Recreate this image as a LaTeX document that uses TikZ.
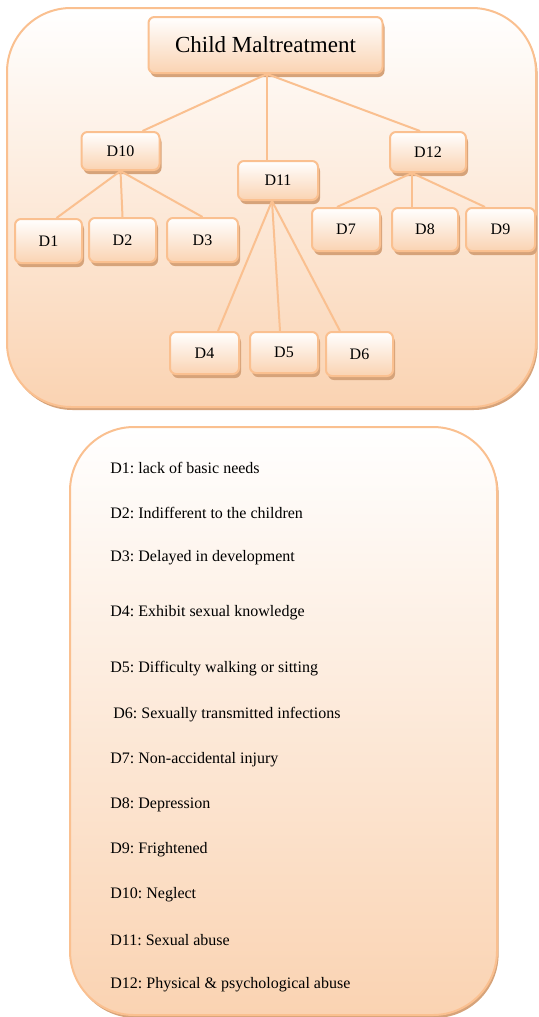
\documentclass[tikz,border=0pt]{standalone}
\usepackage{fontspec}
\setmainfont{Liberation Serif}
\usetikzlibrary{shadows}
\frenchspacing
\definecolor{peachline}{RGB}{250,192,144}
\definecolor{peachfill}{RGB}{250,211,178}
\definecolor{peachshadow}{RGB}{214,163,122}
\tikzset{
  dbox/.style={draw=peachline, line width=1pt, rounded corners=3pt, inner sep=0pt,
    top color=white, bottom color=peachfill,
    drop shadow={shadow xshift=1pt, shadow yshift=-2pt, fill=peachshadow, opacity=1},
    font=\fontsize{8}{9}\selectfont},
  link/.style={draw=peachline, line width=1pt},
  panel/.style={draw=peachline, line width=1pt, rounded corners=32pt,
    top color=white, bottom color=peachfill,
    drop shadow={shadow xshift=0.8pt, shadow yshift=-1.5pt, fill=peachshadow, opacity=1}},
  legend/.style={anchor=west, inner sep=0pt, font=\fontsize{8}{9}\selectfont}
}

\begin{document}
\begin{tikzpicture}[x=0.5pt,y=0.5pt]
  \clip (0,0) rectangle (539,-1017);
  % panels
  \draw[panel] (7,-8) rectangle (536,-407);
  \draw[panel] (70,-427) rectangle (497,-1015);

  % tree
  \node[dbox, minimum width=117pt, minimum height=28pt, font=\fontsize{11.5}{13}\selectfont] (CM) at(265.5,-45){Child Maltreatment};
  \node[dbox, minimum width=39pt, minimum height=19pt] (D10) at(120.5,-151){D10};
  \node[dbox, minimum width=40pt, minimum height=19.5pt] (D11) at(278,-180.5){D11};
  \node[dbox, minimum width=38pt, minimum height=20pt] (D12) at(428,-152){D12};
  \node[dbox, minimum width=33.5pt, minimum height=22pt] (D1) at(48.5,-241){D1};
  \node[dbox, minimum width=33.5pt, minimum height=22pt] (D2) at(122.5,-240){D2};
  \node[dbox, minimum width=35.5pt, minimum height=22pt] (D3) at(202.5,-240){D3};
  \node[dbox, minimum width=34pt, minimum height=21.5pt] (D7) at(346,-229.5){D7};
  \node[dbox, minimum width=33pt, minimum height=21.5pt] (D8) at(425,-229.5){D8};
  \node[dbox, minimum width=34.5pt, minimum height=21.5pt] (D9) at(500.5,-229.5){D9};
  \node[dbox, minimum width=34.5pt, minimum height=21pt] (D4) at(204.5,-353){D4};
  \node[dbox, minimum width=34pt, minimum height=20.5pt] (D5) at(284,-352.5){D5};
  \node[dbox, minimum width=33.5pt, minimum height=22pt] (D6) at(359.5,-354){D6};

  \draw[link] ([xshift=0.75pt]CM.south) -- ([xshift=11pt]D10.north);
  \draw[link] ([xshift=0.75pt]CM.south) -- ([xshift=-5.5pt]D11.north);
  \draw[link] ([xshift=0.75pt]CM.south) -- ([xshift=-4pt]D12.north);
  \draw[link] (D10.south) -- ([xshift=4pt]D1.north);
  \draw[link] (D10.south) -- (D2.north);
  \draw[link] (D10.south) -- (D3.north);
  \draw[link] ([xshift=-3pt]D11.south) -- ([xshift=6.75pt]D4.north);
  \draw[link] ([xshift=-3pt]D11.south) -- ([xshift=-2pt]D5.north);
  \draw[link] ([xshift=-3pt]D11.south) -- ([xshift=-9.75pt]D6.north);
  \draw[link] ([xshift=-8pt]D12.south) -- ([xshift=-4.5pt]D7.north);
  \draw[link] ([xshift=-8pt]D12.south) -- ([xshift=-6.5pt]D8.north);
  \draw[link] ([xshift=-8pt]D12.south) -- ([xshift=-7.75pt]D9.north);

  % legend
  \node[legend] (l1) at(110,-468){D1: lack of basic needs};
  \node[legend] (l2) at(110,-513){D2: Indifferent to the children};
  \node[legend] (l3) at(110,-558){D3: Delayed in development};
  \node[legend] (l4) at(110,-613){D4: Exhibit sexual knowledge};
  \node[legend] (l5) at(110,-669){D5: Difficulty walking or sitting};
  \node[legend] (l6) at(113,-715){D6: Sexually transmitted infections};
  \node[legend] (l7) at(110,-760){D7: Non-accidental injury};
  \node[legend] (l8) at(110,-805){D8: Depression};
  \node[legend] (l9) at(110,-850){D9: Frightened};
  \node[legend] (l10) at(110,-895){D10: Neglect};
  \node[legend] (l11) at(110,-940){D11: Sexual abuse};
  \node[legend] (l12) at(110,-985){D12: Physical \& psychological abuse};
\end{tikzpicture}
\end{document}
